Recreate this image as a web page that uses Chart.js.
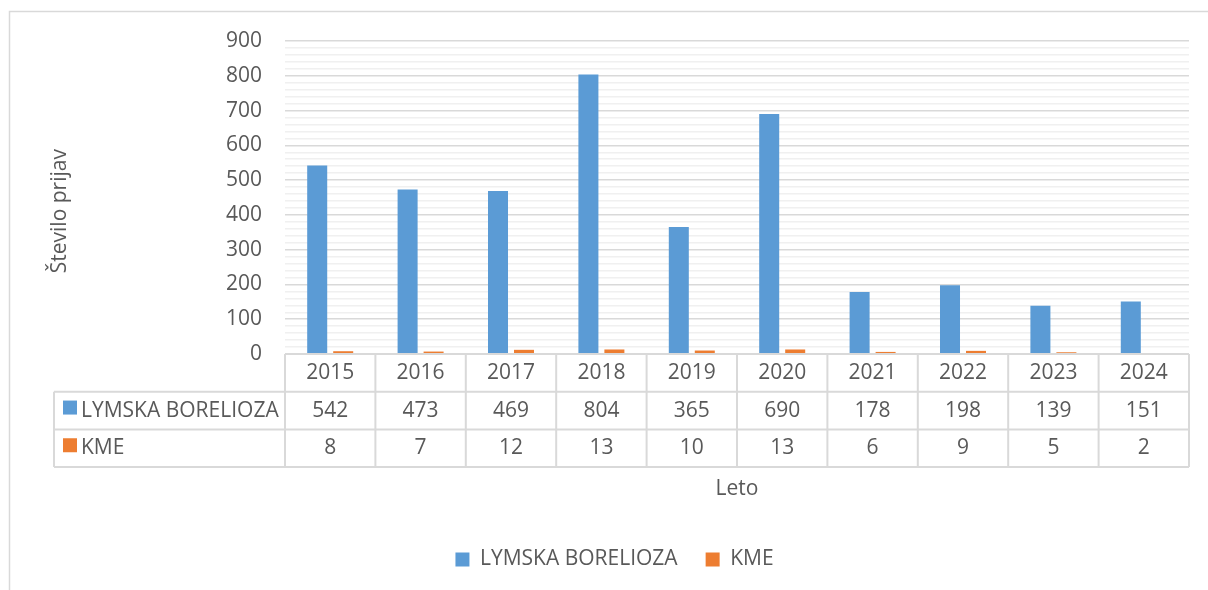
<!DOCTYPE html>
<html>
<head>
<meta charset="utf-8">
<script src="https://cdn.jsdelivr.net/npm/chart.js@4.4.1/dist/chart.umd.min.js"></script>
<style>
  body { margin: 0; background: #fff; }
  #wrap { width: 1208px; height: 590px; }
</style>
</head>
<body>
<div id="wrap"><canvas id="chart"></canvas></div>
<script>
var years = ['2015', '2016', '2017', '2018', '2019', '2020', '2021', '2022', '2023', '2024'];
var lyme = [542, 473, 469, 804, 365, 690, 178, 198, 139, 151];
var kme = [8, 7, 12, 13, 10, 13, 6, 9, 5, 2];
var seriesNames = ['LYMSKA BORELIOZA', 'KME'];

var blue = '#5b9bd5';
var orange = '#ed7d31';
var textCol = '#595959';
var lineCol = '#d9d9d9';
var fontName = "'Open Sans', sans-serif";
var fs = 21;

// frame around the whole chart, like the Excel chart border
var framePlugin = {
    id: 'frame',
    beforeDraw(chart) {
        var ctx = chart.ctx;
        ctx.save();
        ctx.strokeStyle = lineCol;
        ctx.lineWidth = 1.5;
        ctx.strokeRect(9.5, 11.5, 1220, 600);
        ctx.restore();
    },
    afterLayout(chart) {
        // legend sits a bit right of center in the original
        chart.legend.left += 30;
    }
};

// data table under the plot, columns follow the x scale
var tablePlugin = {
    id: 'dataTable',
    afterDraw(chart) {
        var ctx = chart.ctx;
        var area = chart.chartArea;
        var x = chart.scales.x;
        var colW = (x.right - x.left) / years.length;
        var rowH = 37.7;
        var top = area.bottom;
        var labelLeft = 54;
        var rows = [lyme, kme];
        var colors = [blue, orange];

        ctx.save();
        ctx.strokeStyle = lineCol;
        ctx.lineWidth = 2;
        ctx.beginPath();
        ctx.moveTo(area.left, top);
        ctx.lineTo(area.right, top);
        for (var r = 1; r <= 3; r++) {
            ctx.moveTo(labelLeft, top + r * rowH);
            ctx.lineTo(area.right, top + r * rowH);
        }
        ctx.moveTo(labelLeft, top + rowH);
        ctx.lineTo(labelLeft, top + 3 * rowH);
        for (var i = 0; i <= years.length; i++) {
            var cx = x.getPixelForValue(i) - colW / 2;
            if (i === years.length) cx = x.getPixelForValue(i - 1) + colW / 2;
            ctx.moveTo(cx, top);
            ctx.lineTo(cx, top + 3 * rowH);
        }
        ctx.stroke();

        ctx.fillStyle = textCol;
        ctx.font = fs + 'px ' + fontName;
        ctx.textAlign = 'center';
        ctx.textBaseline = 'middle';
        for (var j = 0; j < years.length; j++) {
            var px = x.getPixelForValue(j);
            ctx.fillText(years[j], px, top + rowH / 2);
            ctx.fillText(String(lyme[j]), px, top + rowH * 1.5);
            ctx.fillText(String(kme[j]), px, top + rowH * 2.5);
        }

        ctx.textAlign = 'left';
        for (var k = 0; k < rows.length; k++) {
            var cy = top + rowH * (1.5 + k);
            ctx.fillStyle = colors[k];
            ctx.fillRect(63, cy - 10, 14, 14);
            ctx.fillStyle = textCol;
            ctx.fillText(seriesNames[k], 81, cy);
        }
        ctx.restore();
    }
};

Chart.defaults.font.family = fontName;
Chart.defaults.color = textCol;

new Chart(document.getElementById('chart'), {
    type: 'bar',
    data: {
        labels: years,
        datasets: [{
            label: seriesNames[0],
            data: lyme,
            backgroundColor: blue
        }, {
            label: seriesNames[1],
            data: kme,
            backgroundColor: orange
        }]
    },
    options: {
        responsive: true,
        maintainAspectRatio: false,
        animation: false,
        devicePixelRatio: 1,
        categoryPercentage: 0.575,
        barPercentage: 0.77,
        layout: {
            padding: { left: 10, right: 19, top: 41, bottom: 10 }
        },
        plugins: {
            tooltip: { enabled: false },
            legend: {
                position: 'bottom',
                labels: {
                    boxWidth: 14,
                    boxHeight: 14,
                    padding: 28,
                    font: { size: fs },
                    color: textCol
                }
            }
        },
        scales: {
            x: {
                ticks: { display: false },
                grid: { display: false },
                border: { display: false },
                title: {
                    display: true,
                    text: 'Leto',
                    font: { size: fs },
                    color: textCol,
                    padding: { top: 0, bottom: 19 }
                },
                afterFit(scale) {
                    scale.height = 167;
                }
            },
            y: {
                min: 0,
                max: 900,
                border: { display: false },
                ticks: {
                    stepSize: 20,
                    autoSkip: false,
                    padding: 23,
                    font: { size: fs },
                    color: textCol,
                    callback: function (v) { return v % 100 === 0 ? v : ''; }
                },
                grid: {
                    drawTicks: false,
                    lineWidth: 1.5,
                    color: function (c) {
                        return c.tick && c.tick.value % 100 === 0 ? lineCol : '#f0f0f0';
                    }
                },
                title: {
                    display: true,
                    text: 'Število prijav     ',
                    font: { size: fs },
                    color: textCol,
                    padding: { top: 37, bottom: 0 }
                },
                afterFit(scale) {
                    scale.width = 275;
                }
            }
        }
    },
    plugins: [framePlugin, tablePlugin]
});
</script>
</body>
</html>
